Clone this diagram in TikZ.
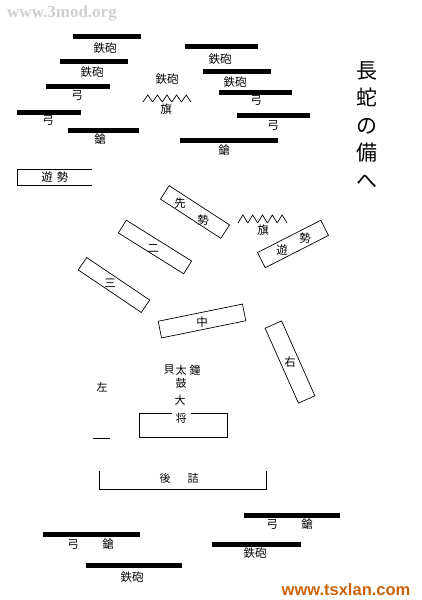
\documentclass[tikz,border=0pt]{standalone}
\usepackage{fontspec}
\usepackage{tikz}
\usepackage{xcolor}
\usetikzlibrary{positioning}
\newfontfamily\cjk{Noto Sans CJK JP}
\newfontfamily\wmserif{Liberation Serif}
\newfontfamily\wmsans{Liberation Sans}
\definecolor{ink}{HTML}{000000}
\definecolor{wmgray}{HTML}{CFCFCF}
\definecolor{wmorange}{HTML}{C8620A}
\tikzset{
  bar/.style={fill=ink,draw=none,minimum height=5pt,inner sep=0pt},
  lbl/.style={font=\cjk\fontsize{11.5}{11.5}\selectfont,inner sep=1pt,text=ink},
  sml/.style={font=\cjk\fontsize{11}{11}\selectfont,inner sep=1pt,text=ink},
  unit/.style={draw=ink,line width=0.7pt,inner sep=0pt,minimum height=16pt},
  vtitle/.style={font=\cjk\fontsize{21}{27.5}\selectfont,align=center,inner sep=0pt},
  flagline/.style={draw=ink,line width=0.7pt},
  frameline/.style={draw=ink,line width=1pt}
}

\begin{document}
\begin{tikzpicture}[x=1pt,y=-1pt]
  \useasboundingbox (0,0) rectangle (421,600);
  % watermarks
  \node[font=\wmserif\bfseries\fontsize{17}{17}\selectfont,text=wmgray,inner sep=0pt] (wmtop) at (62,13) {www.3mod.org};
  \node[font=\wmsans\bfseries\fontsize{16.5}{16.5}\selectfont,text=wmorange,inner sep=0pt] (wmbot) at (346,590) {www.tsxlan.com};
  % title
  \node[vtitle] (title) at (367,125) {長\\蛇\\の\\備\\へ};

  % front left ranks
  \node[bar,minimum width=68pt] (lb1) at (107,36) {};
  \node[lbl] (ll1) at (105,48) {鉄砲};
  \node[bar,minimum width=68pt] (lb2) at (94,61) {};
  \node[lbl] (ll2) at (92,72) {鉄砲};
  \node[bar,minimum width=64pt] (lb3) at (78,86) {};
  \node[lbl] (ll3) at (77,95) {弓};
  \node[bar,minimum width=64pt] (lb4) at (49,112) {};
  \node[lbl] (ll4) at (48,120) {弓};
  \node[bar,minimum width=71pt] (lb5) at (103.5,130) {};
  \node[lbl] (ll5) at (100,139) {鎗};

  % front right ranks
  \node[bar,minimum width=73pt] (rb1) at (221.5,46.5) {};
  \node[lbl] (rl1) at (220,59) {鉄砲};
  \node[bar,minimum width=68pt] (rb2) at (237,71) {};
  \node[lbl] (rl2) at (235,82) {鉄砲};
  \node[bar,minimum width=73pt] (rb3) at (255.5,92) {};
  \node[lbl] (rl3) at (256,100) {弓};
  \node[bar,minimum width=73pt] (rb4) at (273.5,115) {};
  \node[lbl] (rl4) at (273,125) {弓};
  \node[bar,minimum width=98pt] (rb5) at (229,140) {};
  \node[lbl] (rl5) at (224,150) {鎗};

  % flag group front
  \node[lbl] (cgun) at (167,79) {鉄砲};
  \foreach \i in {0,...,4}
    \draw[flagline] ({143+\i*9.6},102) -- ({147.8+\i*9.6},95) -- ({152.6+\i*9.6},102);
  \node[lbl] (cflag) at (166,109) {旗};

  % left wing
  \draw[frameline] (92,169) -- (17,169) -- (17,185) -- (92,185);
  \node[lbl] (yul) at (55,177) {遊\hspace{4pt}勢};

  % tilted units
  \node[unit,minimum width=72pt,rotate=-33] (sen) at (195,212) {};
  \node[lbl] (sen1) at (180,203) {先};
  \node[lbl] (sen2) at (203,220) {勢};
  \node[unit,minimum width=77pt,minimum height=15pt,rotate=-32] (ni) at (155,247) {};
  \node[lbl] (nit) at (153,248) {二};
  \node[unit,minimum width=76pt,minimum height=15pt,rotate=-34] (san) at (114,285) {};
  \node[lbl] (sant) at (110,283) {三};
  \node[unit,minimum width=71pt,minimum height=17pt,rotate=27] (yur) at (293,244) {};
  \node[lbl] (yur1) at (282,250) {遊};
  \node[lbl] (yur2) at (305,238) {勢};
  \node[unit,minimum width=86pt,minimum height=17pt,rotate=11.5] (naka) at (202,321) {};
  \node[lbl] (nakat) at (202,322) {中};
  \node[unit,minimum width=82pt,minimum height=18pt,rotate=-66] (migi) at (290,362) {};
  \node[lbl] (migit) at (290,362) {右};

  % flag group right
  \foreach \i in {0,...,4}
    \draw[flagline] ({238+\i*9.8},223) -- ({242.9+\i*9.8},215) -- ({247.8+\i*9.8},223);
  \node[lbl] (rflag) at (263,230) {旗};

  % headquarters
  \node[sml] (kai) at (169,370) {貝};
  \node[sml] (tai) at (181,370) {太};
  \node[sml] (kane) at (195,370) {鐘};
  \node[sml] (ko) at (181,383) {鼓};
  \node[draw=ink,line width=1pt,minimum width=88pt,minimum height=24pt,inner sep=0pt] (taisho) at (183,425) {};
  \node[sml] (dai) at (180,400) {大};
  \node[sml,fill=white,inner xsep=4pt] (sho) at (181,418) {将};
  \node[sml] (hidari) at (102,387) {左};
  \draw[frameline] (93,438) -- (110,438);

  % rear guard
  \draw[frameline] (99,471) -- (99,489) -- (266,489) -- (266,471);
  \node[sml] (go) at (165,478) {後};
  \node[sml] (tsume) at (193,478) {詰};

  % rear ranks
  \node[bar,minimum width=96pt] (kb1) at (292,515) {};
  \node[lbl] (kl1a) at (272,524) {弓};
  \node[lbl] (kl1b) at (307,524) {鎗};
  \node[bar,minimum width=97pt] (kb2) at (91.5,534) {};
  \node[lbl] (kl2a) at (73,544) {弓};
  \node[lbl] (kl2b) at (108,544) {鎗};
  \node[bar,minimum width=89pt] (kb3) at (256.5,544) {};
  \node[lbl] (kl3) at (255,553) {鉄砲};
  \node[bar,minimum width=96pt] (kb4) at (134,565) {};
  \node[lbl] (kl4) at (132,577) {鉄砲};
\end{tikzpicture}
\end{document}
